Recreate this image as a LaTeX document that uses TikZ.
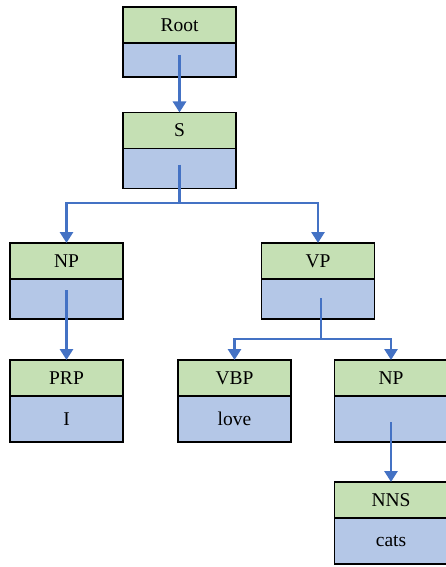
\documentclass[tikz,border=0pt]{standalone}
\usepackage{fontspec}
\setmainfont{Liberation Serif}
\usetikzlibrary{positioning,arrows.meta}
\definecolor{labgreen}{HTML}{C5E0B4}
\definecolor{valblue}{HTML}{B4C7E7}
\definecolor{arrblue}{HTML}{4472C4}
\tikzset{
  lab/.style={draw, fill=labgreen, line width=1.6pt, outer sep=0pt, inner sep=0pt,
    minimum width=113pt, minimum height=36pt, font=\fontsize{19.5}{22}\selectfont},
  val/.style={lab, fill=valblue, minimum height=40pt},
  arr/.style={draw=arrblue, line width=2.8pt, -{Triangle[width=13pt,length=11pt]}}
}
\begin{document}
\begin{tikzpicture}[x=1pt,y=-1pt]
    \useasboundingbox (0,0) rectangle (446,567);
    % boxes
    \node[lab] (root) at (179.5, 25) {Root};
    \node[val, below=0pt of root, minimum height=34pt] (rootv) {};
    \node[lab] (s) at (179.5, 130.5) {S};
    \node[val, below=0pt of s] (sv) {};
    \node[lab] (np1) at (66.5, 261) {NP};
    \node[val, below=0pt of np1] (np1v) {};
    \node[lab] (vp) at (318, 261) {VP};
    \node[val, below=0pt of vp] (vpv) {};
    \node[lab] (prp) at (66.5, 378) {PRP};
    \node[val, below=0pt of prp, minimum height=46pt] (prpv) {I};
    \node[lab] (vbp) at (234.5, 378) {VBP};
    \node[val, below=0pt of vbp, minimum height=46pt] (vbpv) {love};
    \node[lab] (np2) at (391, 378) {NP};
    \node[val, below=0pt of np2, minimum height=46pt] (np2v) {};
    \node[lab] (nns) at (391, 500) {NNS};
    \node[val, below=0pt of nns, minimum height=46pt] (nnsv) {cats};
    % branches
    \coordinate (sfork) at (179.5, 203);
    \coordinate (vpfork) at (321, 339);
    \draw[arr] ([yshift=-12pt]rootv.north) -- (s.north);
    \draw[arr] ([yshift=-16pt]sv.north) -- (sfork) -| (np1.north);
    \draw[arr] (sfork) -| (vp.north);
    \draw[arr] ([yshift=-11pt]np1v.north) -- (prp.north);
    \draw[arr] ([yshift=-19pt,xshift=3pt]vpv.north) -- (vpfork) -| (vbp.north);
    \draw[arr] (vpfork) -| (np2.north);
    \draw[arr] ([yshift=-26pt]np2v.north) -- (nns.north);
\end{tikzpicture}
\end{document}
